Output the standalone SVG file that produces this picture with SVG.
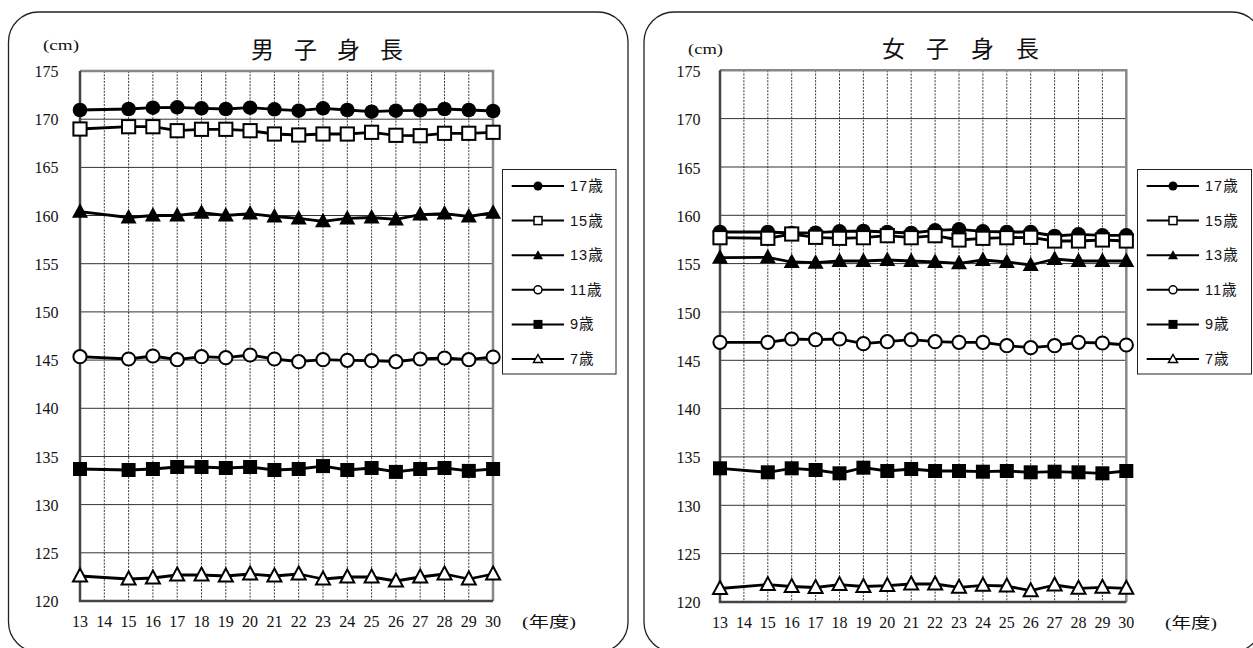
<svg xmlns="http://www.w3.org/2000/svg" xmlns:xlink="http://www.w3.org/1999/xlink" width="1253" height="648" viewBox="0 0 1253 648">
<style>
.frame{fill:#fff;stroke:#222;stroke-width:1.3}
.grid{stroke:#333;stroke-width:1;fill:none}
.vgrid{stroke:#222;stroke-width:0.9;stroke-dasharray:2 1.3;fill:none}
.border{stroke:#888;stroke-width:2.5;fill:none}
.axis{stroke:#444;stroke-width:2.5;fill:none}
.ser{stroke:#000;stroke-width:2.8;fill:none;stroke-linejoin:round}
.lser{stroke:#000;stroke-width:2;fill:none}
.num{font-family:"Liberation Serif",serif;font-size:16px;fill:#111}
.ylab{text-anchor:end}
.xlab{text-anchor:middle}
.unit{font-family:"Liberation Serif","Noto Sans CJK JP",serif;font-size:15px;fill:#111}
.title{font-family:"Noto Sans CJK JP",sans-serif;font-size:23px;fill:#111}
.leg{font-family:"Liberation Sans","Noto Sans CJK JP",sans-serif;font-size:14.5px;letter-spacing:1px;fill:#111}
.lbox{fill:#fff;stroke:#222;stroke-width:1}
</style>
<defs>
<circle id="dotF" r="7.3" fill="#000"/>
<circle id="dotO" r="6.6" fill="#fff" stroke="#000" stroke-width="2"/>
<rect id="sqO" x="-6.6" y="-6.6" width="13.2" height="13.2" fill="#fff" stroke="#000" stroke-width="2"/>
<rect id="sqF" x="-7" y="-7" width="14" height="14" fill="#000"/>
<polygon id="triF" points="0,-8.5 8,6 -8,6" fill="#000"/>
<polygon id="triO" points="0,-7.5 7,5.5 -7,5.5" fill="#fff" stroke="#000" stroke-width="2" stroke-linejoin="miter"/>
<circle id="ldotF" r="4.5" fill="#000"/>
<circle id="ldotO" r="4" fill="#fff" stroke="#000" stroke-width="1.5"/>
<rect id="lsqO" x="-4" y="-4" width="8" height="8" fill="#fff" stroke="#000" stroke-width="1.5"/>
<rect id="lsqF" x="-4.5" y="-4.5" width="9" height="9" fill="#000"/>
<polygon id="ltriF" points="0,-5 5,4 -5,4" fill="#000"/>
<polygon id="ltriO" points="0,-4.5 4.5,3.5 -4.5,3.5" fill="#fff" stroke="#000" stroke-width="1.5"/>
</defs>
<rect width="1253" height="648" fill="#fff"/>

<!-- LEFT PANEL: boys -->
<g id="boys-chart">
<rect class="frame" x="8.5" y="12" width="619.5" height="640" rx="30" ry="30"/>
<text class="title" x="251 273 294 316 337 359 380" y="58">男 子 身 長</text>
<text class="unit" x="43" y="50" textLength="36" lengthAdjust="spacingAndGlyphs">(cm)</text>
<g id="boys-grid">
<path class="grid" d="M80,119.2H493M80,167.4H493M80,215.5H493M80,263.7H493M80,311.9H493M80,360.1H493M80,408.3H493M80,456.5H493M80,504.6H493M80,552.8H493"/>
<path class="vgrid" d="M104.3,71V601M128.6,71V601M152.9,71V601M177.2,71V601M201.5,71V601M225.8,71V601M250.1,71V601M274.4,71V601M298.7,71V601M323,71V601M347.3,71V601M371.6,71V601M395.9,71V601M420.2,71V601M444.5,71V601M468.8,71V601"/>
<path class="border" d="M80,71H493V601"/>
<path class="axis" d="M80,71V601H493"/>
</g>
<g id="boys-yaxis" class="num ylab">
<text x="58.5" y="77">175</text><text x="58.5" y="125">170</text><text x="58.5" y="173">165</text>
<text x="58.5" y="221.5">160</text><text x="58.5" y="269.5">155</text><text x="58.5" y="318">150</text>
<text x="58.5" y="366">145</text><text x="58.5" y="414">140</text><text x="58.5" y="462.5">135</text>
<text x="58.5" y="510.5">130</text><text x="58.5" y="559">125</text><text x="58.5" y="607">120</text>
</g>
<g id="boys-xaxis" class="num xlab">
<text x="80" y="627">13</text><text x="104.3" y="627">14</text><text x="128.6" y="627">15</text><text x="152.9" y="627">16</text>
<text x="177.2" y="627">17</text><text x="201.5" y="627">18</text><text x="225.8" y="627">19</text><text x="250.1" y="627">20</text>
<text x="274.4" y="627">21</text><text x="298.7" y="627">22</text><text x="323" y="627">23</text><text x="347.3" y="627">24</text>
<text x="371.6" y="627">25</text><text x="395.9" y="627">26</text><text x="420.2" y="627">27</text><text x="444.5" y="627">28</text>
<text x="468.8" y="627">29</text><text x="493.1" y="627">30</text>
</g>
<text class="unit" x="522" y="627" textLength="54" lengthAdjust="spacingAndGlyphs">(年度)</text>
</g>

<g id="boys-series">
<g id="b17">
<polyline class="ser" points="80,110 128.6,109 152.9,107.7 177.2,107.3 201.5,108.3 225.8,109 250.1,107.7 274.4,109.3 298.7,110.7 323,108.3 347.3,110 371.6,111.7 395.9,110.7 420.2,110.3 444.5,109 468.8,110 493.1,111"/>
<use href="#dotF" x="80" y="110"/><use href="#dotF" x="128.6" y="109"/><use href="#dotF" x="152.9" y="107.7"/><use href="#dotF" x="177.2" y="107.3"/><use href="#dotF" x="201.5" y="108.3"/><use href="#dotF" x="225.8" y="109"/><use href="#dotF" x="250.1" y="107.7"/><use href="#dotF" x="274.4" y="109.3"/><use href="#dotF" x="298.7" y="110.7"/><use href="#dotF" x="323" y="108.3"/><use href="#dotF" x="347.3" y="110"/><use href="#dotF" x="371.6" y="111.7"/><use href="#dotF" x="395.9" y="110.7"/><use href="#dotF" x="420.2" y="110.3"/><use href="#dotF" x="444.5" y="109"/><use href="#dotF" x="468.8" y="110"/><use href="#dotF" x="493.1" y="111"/>
</g>
<g id="b15">
<polyline class="ser" points="80,129 128.6,126.7 152.9,126.7 177.2,130.7 201.5,129.3 225.8,129.3 250.1,130.7 274.4,134 298.7,135 323,134 347.3,134 371.6,132.3 395.9,135.3 420.2,135.7 444.5,133.3 468.8,133.3 493.1,132.3"/>
<use href="#sqO" x="80" y="129"/><use href="#sqO" x="128.6" y="126.7"/><use href="#sqO" x="152.9" y="126.7"/><use href="#sqO" x="177.2" y="130.7"/><use href="#sqO" x="201.5" y="129.3"/><use href="#sqO" x="225.8" y="129.3"/><use href="#sqO" x="250.1" y="130.7"/><use href="#sqO" x="274.4" y="134"/><use href="#sqO" x="298.7" y="135"/><use href="#sqO" x="323" y="134"/><use href="#sqO" x="347.3" y="134"/><use href="#sqO" x="371.6" y="132.3"/><use href="#sqO" x="395.9" y="135.3"/><use href="#sqO" x="420.2" y="135.7"/><use href="#sqO" x="444.5" y="133.3"/><use href="#sqO" x="468.8" y="133.3"/><use href="#sqO" x="493.1" y="132.3"/>
</g>
<g id="b13">
<polyline class="ser" points="80,211.7 128.6,217.5 152.9,215.5 177.2,215.5 201.5,212.7 225.8,215.5 250.1,213.6 274.4,216.5 298.7,218.4 323,221.3 347.3,218.4 371.6,217.5 395.9,219.4 420.2,214.6 444.5,213.6 468.8,216.5 493.1,212.7"/>
<use href="#triF" x="80" y="211.7"/><use href="#triF" x="128.6" y="217.5"/><use href="#triF" x="152.9" y="215.5"/><use href="#triF" x="177.2" y="215.5"/><use href="#triF" x="201.5" y="212.7"/><use href="#triF" x="225.8" y="215.5"/><use href="#triF" x="250.1" y="213.6"/><use href="#triF" x="274.4" y="216.5"/><use href="#triF" x="298.7" y="218.4"/><use href="#triF" x="323" y="221.3"/><use href="#triF" x="347.3" y="218.4"/><use href="#triF" x="371.6" y="217.5"/><use href="#triF" x="395.9" y="219.4"/><use href="#triF" x="420.2" y="214.6"/><use href="#triF" x="444.5" y="213.6"/><use href="#triF" x="468.8" y="216.5"/><use href="#triF" x="493.1" y="212.7"/>
</g>
<g id="b11">
<polyline class="ser" points="80,356.7 128.6,359 152.9,356 177.2,359.7 201.5,356.7 225.8,357.7 250.1,355 274.4,359 298.7,361.7 323,359.7 347.3,360.3 371.6,360.7 395.9,361.7 420.2,359 444.5,358 468.8,359.7 493.1,357"/>
<use href="#dotO" x="80" y="356.7"/><use href="#dotO" x="128.6" y="359"/><use href="#dotO" x="152.9" y="356"/><use href="#dotO" x="177.2" y="359.7"/><use href="#dotO" x="201.5" y="356.7"/><use href="#dotO" x="225.8" y="357.7"/><use href="#dotO" x="250.1" y="355"/><use href="#dotO" x="274.4" y="359"/><use href="#dotO" x="298.7" y="361.7"/><use href="#dotO" x="323" y="359.7"/><use href="#dotO" x="347.3" y="360.3"/><use href="#dotO" x="371.6" y="360.7"/><use href="#dotO" x="395.9" y="361.7"/><use href="#dotO" x="420.2" y="359"/><use href="#dotO" x="444.5" y="358"/><use href="#dotO" x="468.8" y="359.7"/><use href="#dotO" x="493.1" y="357"/>
</g>
<g id="b9">
<polyline class="ser" points="80,469 128.6,470 152.9,469 177.2,467 201.5,467 225.8,468 250.1,467 274.4,470 298.7,469 323,466.1 347.3,470 371.6,468 395.9,471.9 420.2,469 444.5,468 468.8,470.9 493.1,469"/>
<use href="#sqF" x="80" y="469"/><use href="#sqF" x="128.6" y="470"/><use href="#sqF" x="152.9" y="469"/><use href="#sqF" x="177.2" y="467"/><use href="#sqF" x="201.5" y="467"/><use href="#sqF" x="225.8" y="468"/><use href="#sqF" x="250.1" y="467"/><use href="#sqF" x="274.4" y="470"/><use href="#sqF" x="298.7" y="469"/><use href="#sqF" x="323" y="466.1"/><use href="#sqF" x="347.3" y="470"/><use href="#sqF" x="371.6" y="468"/><use href="#sqF" x="395.9" y="471.9"/><use href="#sqF" x="420.2" y="469"/><use href="#sqF" x="444.5" y="468"/><use href="#sqF" x="468.8" y="470.9"/><use href="#sqF" x="493.1" y="469"/>
</g>
<g id="b7">
<polyline class="ser" points="80,576 128.6,579 152.9,578 177.2,575 201.5,575 225.8,576 250.1,574 274.4,576 298.7,574 323,579 347.3,577 371.6,577 395.9,581 420.2,577 444.5,574 468.8,579 493.1,574"/>
<use href="#triO" x="80" y="576"/><use href="#triO" x="128.6" y="579"/><use href="#triO" x="152.9" y="578"/><use href="#triO" x="177.2" y="575"/><use href="#triO" x="201.5" y="575"/><use href="#triO" x="225.8" y="576"/><use href="#triO" x="250.1" y="574"/><use href="#triO" x="274.4" y="576"/><use href="#triO" x="298.7" y="574"/><use href="#triO" x="323" y="579"/><use href="#triO" x="347.3" y="577"/><use href="#triO" x="371.6" y="577"/><use href="#triO" x="395.9" y="581"/><use href="#triO" x="420.2" y="577"/><use href="#triO" x="444.5" y="574"/><use href="#triO" x="468.8" y="579"/><use href="#triO" x="493.1" y="574"/>
</g>
</g>

<g id="boys-legend">
<rect class="lbox" x="502.5" y="169.5" width="113.5" height="204.5"/>
<path class="lser" d="M511.7,186H564M511.7,220.6H564M511.7,255.2H564M511.7,289.8H564M511.7,324.4H564M511.7,359H564"/>
<use href="#ldotF" x="538" y="186"/><use href="#lsqO" x="538" y="220.6"/><use href="#ltriF" x="538" y="255.2"/><use href="#ldotO" x="538" y="289.8"/><use href="#lsqF" x="538" y="324.4"/><use href="#ltriO" x="538" y="359"/>
<g class="leg"><text x="570" y="191">17歳</text><text x="570" y="225.6">15歳</text><text x="570" y="260.2">13歳</text><text x="570" y="294.8">11歳</text><text x="570" y="329.4">9歳</text><text x="570" y="364">7歳</text></g>
</g>

<!-- RIGHT PANEL: girls -->
<g id="girls-chart">
<rect class="frame" x="644" y="12" width="618" height="640" rx="30" ry="30"/>
<text class="title" x="882 904 926 949 971 994 1016" y="57">女 子 身 長</text>
<text class="unit" x="688" y="54" textLength="35" lengthAdjust="spacingAndGlyphs">(cm)</text>
<g id="girls-grid">
<path class="grid" d="M720,118.6H1126M720,167H1126M720,215.3H1126M720,263.6H1126M720,312H1126M720,360.3H1126M720,408.6H1126M720,456.9H1126M720,505.3H1126M720,553.6H1126"/>
<path class="vgrid" d="M743.9,70.3V602M767.8,70.3V602M791.7,70.3V602M815.6,70.3V602M839.5,70.3V602M863.4,70.3V602M887.3,70.3V602M911.2,70.3V602M935.1,70.3V602M959,70.3V602M982.9,70.3V602M1006.8,70.3V602M1030.7,70.3V602M1054.6,70.3V602M1078.5,70.3V602M1102.4,70.3V602"/>
<path class="border" d="M720,70.3H1126.3V602"/>
<path class="axis" d="M720,70.3V602H1126.3"/>
</g>
<g id="girls-yaxis" class="num ylab">
<text x="700.5" y="77">175</text><text x="700.5" y="125">170</text><text x="700.5" y="173.5">165</text>
<text x="700.5" y="221.5">160</text><text x="700.5" y="270">155</text><text x="700.5" y="318.5">150</text>
<text x="700.5" y="366.5">145</text><text x="700.5" y="415">140</text><text x="700.5" y="463">135</text>
<text x="700.5" y="511.5">130</text><text x="700.5" y="560">125</text><text x="700.5" y="608">120</text>
</g>
<g id="girls-xaxis" class="num xlab">
<text x="720" y="628">13</text><text x="743.9" y="628">14</text><text x="767.8" y="628">15</text><text x="791.7" y="628">16</text>
<text x="815.6" y="628">17</text><text x="839.5" y="628">18</text><text x="863.4" y="628">19</text><text x="887.3" y="628">20</text>
<text x="911.2" y="628">21</text><text x="935.1" y="628">22</text><text x="959" y="628">23</text><text x="982.9" y="628">24</text>
<text x="1006.8" y="628">25</text><text x="1030.7" y="628">26</text><text x="1054.6" y="628">27</text><text x="1078.5" y="628">28</text>
<text x="1102.4" y="628">29</text><text x="1126.3" y="628">30</text>
</g>
<text class="unit" x="1165" y="628" textLength="52" lengthAdjust="spacingAndGlyphs">(年度)</text>
</g>

<g id="girls-series">
<g id="g17">
<polyline class="ser" points="720,232 767.8,232 791.7,233 815.6,232.7 839.5,231.3 863.4,231 887.3,232 911.2,233 935.1,230.3 959,229.3 982.9,231.3 1006.8,232 1030.7,232 1054.6,236 1078.5,234.3 1102.4,235.3 1126.3,235.3"/>
<use href="#dotF" x="720" y="232"/><use href="#dotF" x="767.8" y="232"/><use href="#dotF" x="791.7" y="233"/><use href="#dotF" x="815.6" y="232.7"/><use href="#dotF" x="839.5" y="231.3"/><use href="#dotF" x="863.4" y="231"/><use href="#dotF" x="887.3" y="232"/><use href="#dotF" x="911.2" y="233"/><use href="#dotF" x="935.1" y="230.3"/><use href="#dotF" x="959" y="229.3"/><use href="#dotF" x="982.9" y="231.3"/><use href="#dotF" x="1006.8" y="232"/><use href="#dotF" x="1030.7" y="232"/><use href="#dotF" x="1054.6" y="236"/><use href="#dotF" x="1078.5" y="234.3"/><use href="#dotF" x="1102.4" y="235.3"/><use href="#dotF" x="1126.3" y="235.3"/>
</g>
<g id="g15">
<polyline class="ser" points="720,237.7 767.8,238.3 791.7,234 815.6,237.3 839.5,238.3 863.4,237.7 887.3,235.7 911.2,237.7 935.1,235.7 959,240 982.9,238.3 1006.8,237.7 1030.7,237.3 1054.6,241 1078.5,241 1102.4,240 1126.3,241"/>
<use href="#sqO" x="720" y="237.7"/><use href="#sqO" x="767.8" y="238.3"/><use href="#sqO" x="791.7" y="234"/><use href="#sqO" x="815.6" y="237.3"/><use href="#sqO" x="839.5" y="238.3"/><use href="#sqO" x="863.4" y="237.7"/><use href="#sqO" x="887.3" y="235.7"/><use href="#sqO" x="911.2" y="237.7"/><use href="#sqO" x="935.1" y="235.7"/><use href="#sqO" x="959" y="240"/><use href="#sqO" x="982.9" y="238.3"/><use href="#sqO" x="1006.8" y="237.7"/><use href="#sqO" x="1030.7" y="237.3"/><use href="#sqO" x="1054.6" y="241"/><use href="#sqO" x="1078.5" y="241"/><use href="#sqO" x="1102.4" y="240"/><use href="#sqO" x="1126.3" y="241"/>
</g>
<g id="g13">
<polyline class="ser" points="720,257.7 767.8,257.3 791.7,262 815.6,262.7 839.5,261 863.4,261 887.3,260 911.2,261 935.1,262 959,263.3 982.9,260 1006.8,262 1030.7,265 1054.6,259 1078.5,261 1102.4,261 1126.3,261"/>
<use href="#triF" x="720" y="257.7"/><use href="#triF" x="767.8" y="257.3"/><use href="#triF" x="791.7" y="262"/><use href="#triF" x="815.6" y="262.7"/><use href="#triF" x="839.5" y="261"/><use href="#triF" x="863.4" y="261"/><use href="#triF" x="887.3" y="260"/><use href="#triF" x="911.2" y="261"/><use href="#triF" x="935.1" y="262"/><use href="#triF" x="959" y="263.3"/><use href="#triF" x="982.9" y="260"/><use href="#triF" x="1006.8" y="262"/><use href="#triF" x="1030.7" y="265"/><use href="#triF" x="1054.6" y="259"/><use href="#triF" x="1078.5" y="261"/><use href="#triF" x="1102.4" y="261"/><use href="#triF" x="1126.3" y="261"/>
</g>
<g id="g11">
<polyline class="ser" points="720,342.3 767.8,342.3 791.7,339 815.6,339.7 839.5,339 863.4,343.7 887.3,341.7 911.2,339.7 935.1,341.7 959,342.3 982.9,342.3 1006.8,345.7 1030.7,347.7 1054.6,345.7 1078.5,342.3 1102.4,343 1126.3,345"/>
<use href="#dotO" x="720" y="342.3"/><use href="#dotO" x="767.8" y="342.3"/><use href="#dotO" x="791.7" y="339"/><use href="#dotO" x="815.6" y="339.7"/><use href="#dotO" x="839.5" y="339"/><use href="#dotO" x="863.4" y="343.7"/><use href="#dotO" x="887.3" y="341.7"/><use href="#dotO" x="911.2" y="339.7"/><use href="#dotO" x="935.1" y="341.7"/><use href="#dotO" x="959" y="342.3"/><use href="#dotO" x="982.9" y="342.3"/><use href="#dotO" x="1006.8" y="345.7"/><use href="#dotO" x="1030.7" y="347.7"/><use href="#dotO" x="1054.6" y="345.7"/><use href="#dotO" x="1078.5" y="342.3"/><use href="#dotO" x="1102.4" y="343"/><use href="#dotO" x="1126.3" y="345"/>
</g>
<g id="g9">
<polyline class="ser" points="720,468.3 767.8,472.3 791.7,468.3 815.6,470 839.5,473.3 863.4,467.7 887.3,471 911.2,469 935.1,471 959,471 982.9,471.7 1006.8,471 1030.7,472.3 1054.6,471.7 1078.5,472.3 1102.4,473.3 1126.3,471"/>
<use href="#sqF" x="720" y="468.3"/><use href="#sqF" x="767.8" y="472.3"/><use href="#sqF" x="791.7" y="468.3"/><use href="#sqF" x="815.6" y="470"/><use href="#sqF" x="839.5" y="473.3"/><use href="#sqF" x="863.4" y="467.7"/><use href="#sqF" x="887.3" y="471"/><use href="#sqF" x="911.2" y="469"/><use href="#sqF" x="935.1" y="471"/><use href="#sqF" x="959" y="471"/><use href="#sqF" x="982.9" y="471.7"/><use href="#sqF" x="1006.8" y="471"/><use href="#sqF" x="1030.7" y="472.3"/><use href="#sqF" x="1054.6" y="471.7"/><use href="#sqF" x="1078.5" y="472.3"/><use href="#sqF" x="1102.4" y="473.3"/><use href="#sqF" x="1126.3" y="471"/>
</g>
<g id="g7">
<polyline class="ser" points="720,588.5 767.8,584.6 791.7,586.5 815.6,587.5 839.5,584.6 863.4,586.5 887.3,585.6 911.2,584 935.1,584 959,587.3 982.9,585.3 1006.8,586 1030.7,590.7 1054.6,585 1078.5,588.3 1102.4,587.3 1126.3,588.3"/>
<use href="#triO" x="720" y="588.5"/><use href="#triO" x="767.8" y="584.6"/><use href="#triO" x="791.7" y="586.5"/><use href="#triO" x="815.6" y="587.5"/><use href="#triO" x="839.5" y="584.6"/><use href="#triO" x="863.4" y="586.5"/><use href="#triO" x="887.3" y="585.6"/><use href="#triO" x="911.2" y="584"/><use href="#triO" x="935.1" y="584"/><use href="#triO" x="959" y="587.3"/><use href="#triO" x="982.9" y="585.3"/><use href="#triO" x="1006.8" y="586"/><use href="#triO" x="1030.7" y="590.7"/><use href="#triO" x="1054.6" y="585"/><use href="#triO" x="1078.5" y="588.3"/><use href="#triO" x="1102.4" y="587.3"/><use href="#triO" x="1126.3" y="588.3"/>
</g>
</g>

<g id="girls-legend">
<rect class="lbox" x="1137.5" y="169.5" width="114" height="204.5"/>
<path class="lser" d="M1146.7,186H1199M1146.7,220.6H1199M1146.7,255.2H1199M1146.7,289.8H1199M1146.7,324.4H1199M1146.7,359H1199"/>
<use href="#ldotF" x="1173" y="186"/><use href="#lsqO" x="1173" y="220.6"/><use href="#ltriF" x="1173" y="255.2"/><use href="#ldotO" x="1173" y="289.8"/><use href="#lsqF" x="1173" y="324.4"/><use href="#ltriO" x="1173" y="359"/>
<g class="leg"><text x="1205" y="191">17歳</text><text x="1205" y="225.6">15歳</text><text x="1205" y="260.2">13歳</text><text x="1205" y="294.8">11歳</text><text x="1205" y="329.4">9歳</text><text x="1205" y="364">7歳</text></g>
</g>
</svg>
